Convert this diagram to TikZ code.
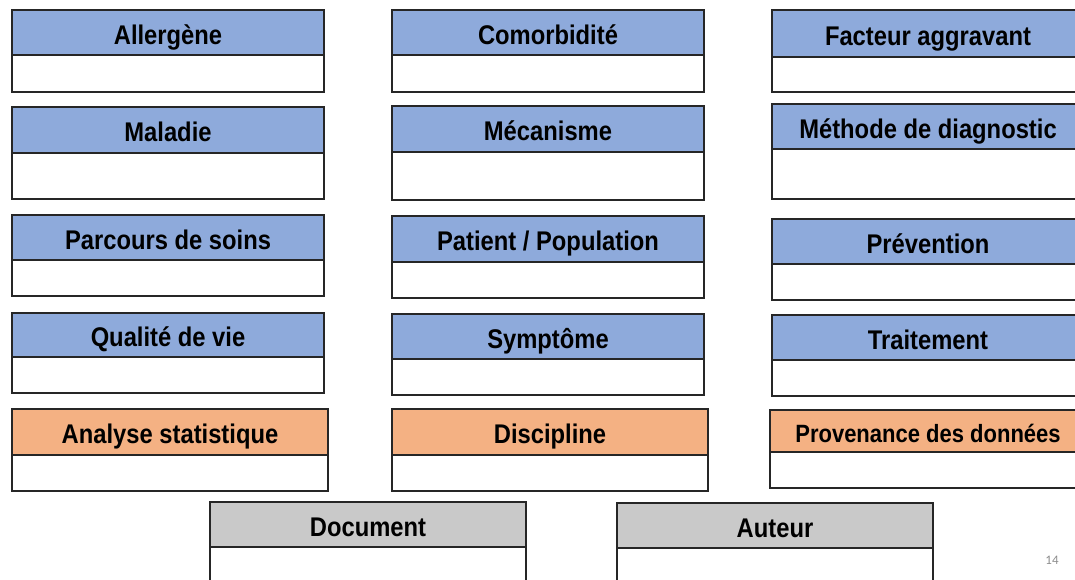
\documentclass[tikz,border=0pt]{standalone}
\usepackage{fontspec}
\setmainfont{Liberation Sans}[FakeStretch=0.88]
\newfontfamily\numfont{Carlito}
\usetikzlibrary{positioning}
\definecolor{blx}{HTML}{8EAADB}
\definecolor{orx}{HTML}{F4B183}
\definecolor{gyx}{HTML}{C9C9C9}
\definecolor{pgx}{HTML}{8C8C8C}

\begin{document}
\begin{tikzpicture}[
        x=1pt, y=1pt,
        hd/.style={draw=black!85, line width=1.8, fill=blx, anchor=north west,
            minimum width=312, minimum height=45, inner sep=0pt, outer sep=0pt,
            text height=24pt, text depth=0pt,
            font=\bfseries\fontsize{27}{30}\selectfont},
        cell/.style={draw=black!85, line width=1.8, fill=white,
            minimum width=312, inner sep=0pt, outer sep=0pt}
    ]
    \clip (0,0) rectangle (1075,580);
    % left column
    \node[hd] (allergene) at (12,570) {Allergène};
    \node[cell, minimum height=37, below=0pt of allergene] (allergene-b) {};
    \node[hd, minimum height=46] (maladie) at (12,473) {Maladie};
    \node[cell, minimum height=46, below=0pt of maladie] (maladie-b) {};
    \node[hd] (parcours) at (12,365) {Parcours de soins};
    \node[cell, minimum height=36, below=0pt of parcours] (parcours-b) {};
    \node[hd, minimum height=44] (qualite) at (12,267) {Qualité de vie};
    \node[cell, minimum height=36, below=0pt of qualite] (qualite-b) {};
    \node[hd, fill=orx, minimum width=316, minimum height=46] (analyse) at (12,171) {Analyse statistique};
    \node[cell, minimum width=316, minimum height=36, below=0pt of analyse] (analyse-b) {};
    % middle column
    \node[hd] (comorbidite) at (392,570) {Comorbidité};
    \node[cell, minimum height=37, below=0pt of comorbidite] (comorbidite-b) {};
    \node[hd, minimum height=46] (mecanisme) at (392,474) {Mécanisme};
    \node[cell, minimum height=48, below=0pt of mecanisme] (mecanisme-b) {};
    \node[hd, minimum height=46] (patient) at (392,364) {Patient / Population};
    \node[cell, minimum height=36, below=0pt of patient] (patient-b) {};
    \node[hd] (symptome) at (392,266) {Symptôme};
    \node[cell, minimum height=36, below=0pt of symptome] (symptome-b) {};
    \node[hd, fill=orx, minimum width=316, minimum height=46] (discipline) at (392,171) {Discipline};
    \node[cell, minimum width=316, minimum height=36, below=0pt of discipline] (discipline-b) {};
    % right column
    \node[hd, minimum height=47] (facteur) at (772,570) {Facteur aggravant};
    \node[cell, minimum height=35, below=0pt of facteur] (facteur-b) {};
    \node[hd] (methode) at (772,476) {Méthode de diagnostic};
    \node[cell, minimum height=50, below=0pt of methode] (methode-b) {};
    \node[hd] (prevention) at (772,361) {Prévention};
    \node[cell, minimum height=36, below=0pt of prevention] (prevention-b) {};
    \node[hd] (traitement) at (772,265) {Traitement};
    \node[cell, minimum height=36, below=0pt of traitement] (traitement-b) {};
    \node[hd, fill=orx, minimum width=316, minimum height=42,
        font=\bfseries\fontsize{25}{28}\selectfont] (provenance) at (770,170) {Provenance des données};
    \node[cell, minimum width=316, minimum height=36, below=0pt of provenance] (provenance-b) {};
    % bottom row
    \node[hd, fill=gyx, minimum width=316] (document) at (210,78) {Document};
    \node[cell, minimum width=316, minimum height=40, below=0pt of document] (document-b) {};
    \node[hd, fill=gyx, minimum width=316] (auteur) at (617,77) {Auteur};
    \node[cell, minimum width=316, minimum height=40, below=0pt of auteur] (auteur-b) {};
    \node[text=pgx, font=\numfont\fontsize{13}{15}\selectfont] (page) at (1052,20) {14};
\end{tikzpicture}
\end{document}
